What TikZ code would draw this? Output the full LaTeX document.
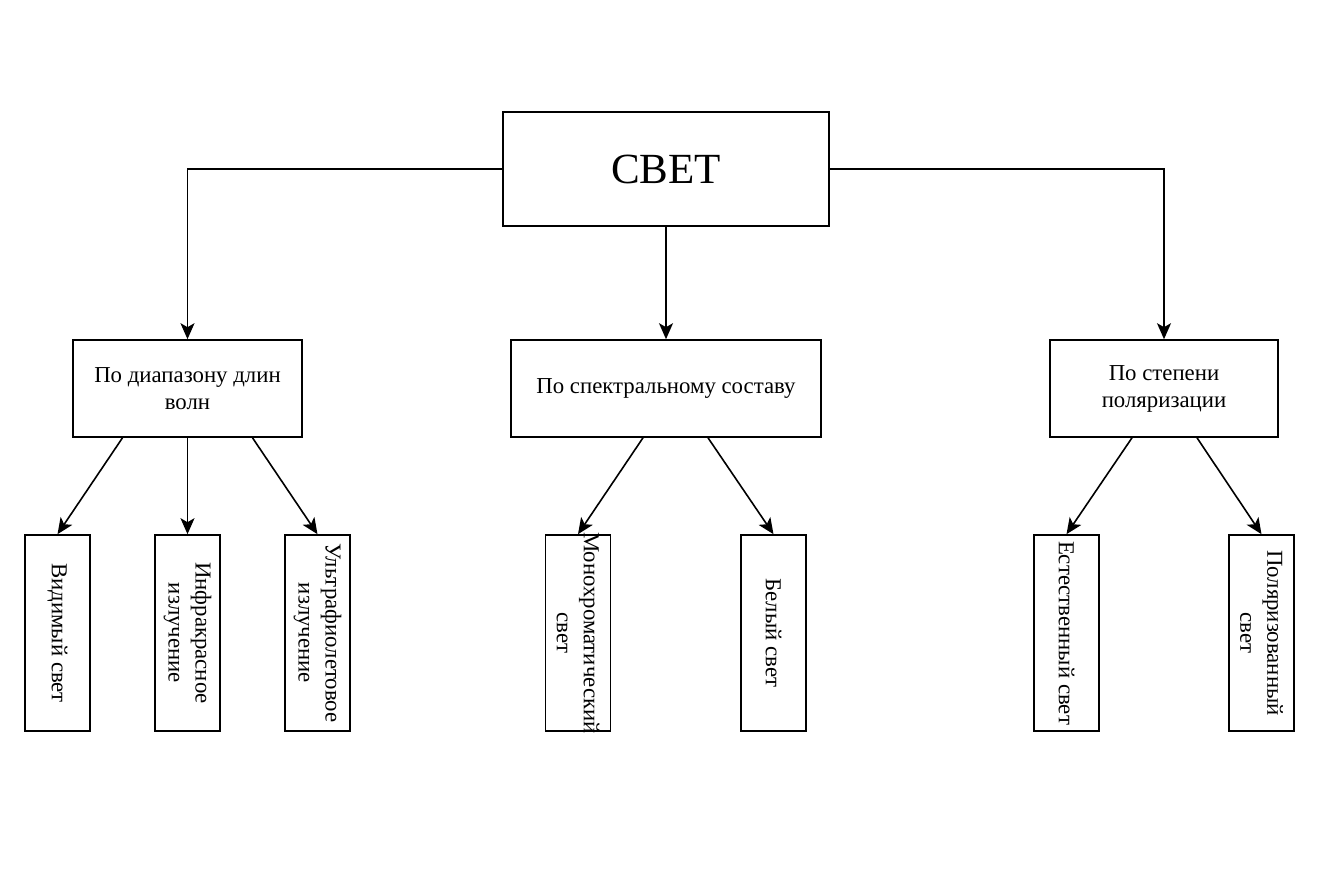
\documentclass[tikz,border=0pt]{standalone}
\usepackage{fontspec}
\setmainfont{Liberation Serif}
\usetikzlibrary{arrows.meta}
\begin{document}
\begin{tikzpicture}[x=1pt,y=-1pt,
  box/.style={draw,line width=1.6pt,inner sep=0pt},
  lbl/.style={font=\fontsize{22.8}{27}\selectfont,align=center,inner sep=0pt},
  vlbl/.style={lbl,rotate=-90},
  conn/.style={line width=1.6pt,-{Stealth[length=16pt,width=14pt,inset=4pt]}}]
\useasboundingbox (0,0) rectangle (1323,881);
% top
\node[box,minimum width=326pt,minimum height=114pt,font=\fontsize{43}{50}\selectfont] (svet) at (666,169) {СВЕТ};
% middle
\node[box,minimum width=229pt,minimum height=97pt] (m1) at (187.5,388.5) {};
\node[lbl] at (m1.center) {По диапазону длин\\волн};
\node[box,minimum width=310pt,minimum height=97pt] (m2) at (666,388.5) {};
\node[lbl] at (m2.center) {По спектральному составу};
\node[box,minimum width=228pt,minimum height=97pt] (m3) at (1164,388.5) {};
\node[lbl] at (m3.center) {По степени\\поляризации};
% bottom
\foreach \n/\x in {b1/57.5,b2/187.5,b3/317.5,b4/578,b5/773.5,b6/1066.5,b7/1261.5}{
  \node[box,minimum width=65pt,minimum height=196pt] (\n) at (\x,633) {};
}
\node[vlbl] at (b1.center) {Видимый свет};
\node[vlbl] at (b2.center) {Инфракрасное\\излучение};
\node[vlbl] at (b3.center) {Ультрафиолетовое\\излучение};
\node[vlbl] at (b4.center) {Монохроматический\\свет};
\node[vlbl] at (b5.center) {Белый свет};
\node[vlbl] at (b6.center) {Естественный свет};
\node[vlbl] at (b7.center) {Поляризованный\\свет};
% connectors
\draw[conn] (svet.west) -| (m1.north);
\draw[conn] (svet.south) -- (m2.north);
\draw[conn] (svet.east) -| (m3.north);
\draw[conn] ([xshift=-65pt]m1.south) -- (b1.north);
\draw[conn] (m1.south) -- (b2.north);
\draw[conn] ([xshift=65pt]m1.south) -- (b3.north);
\draw[conn] ([xshift=-23pt]m2.south) -- (b4.north);
\draw[conn] ([xshift=42pt]m2.south) -- (b5.north);
\draw[conn] ([xshift=-32pt]m3.south) -- (b6.north);
\draw[conn] ([xshift=33pt]m3.south) -- (b7.north);
\end{tikzpicture}
\end{document}
